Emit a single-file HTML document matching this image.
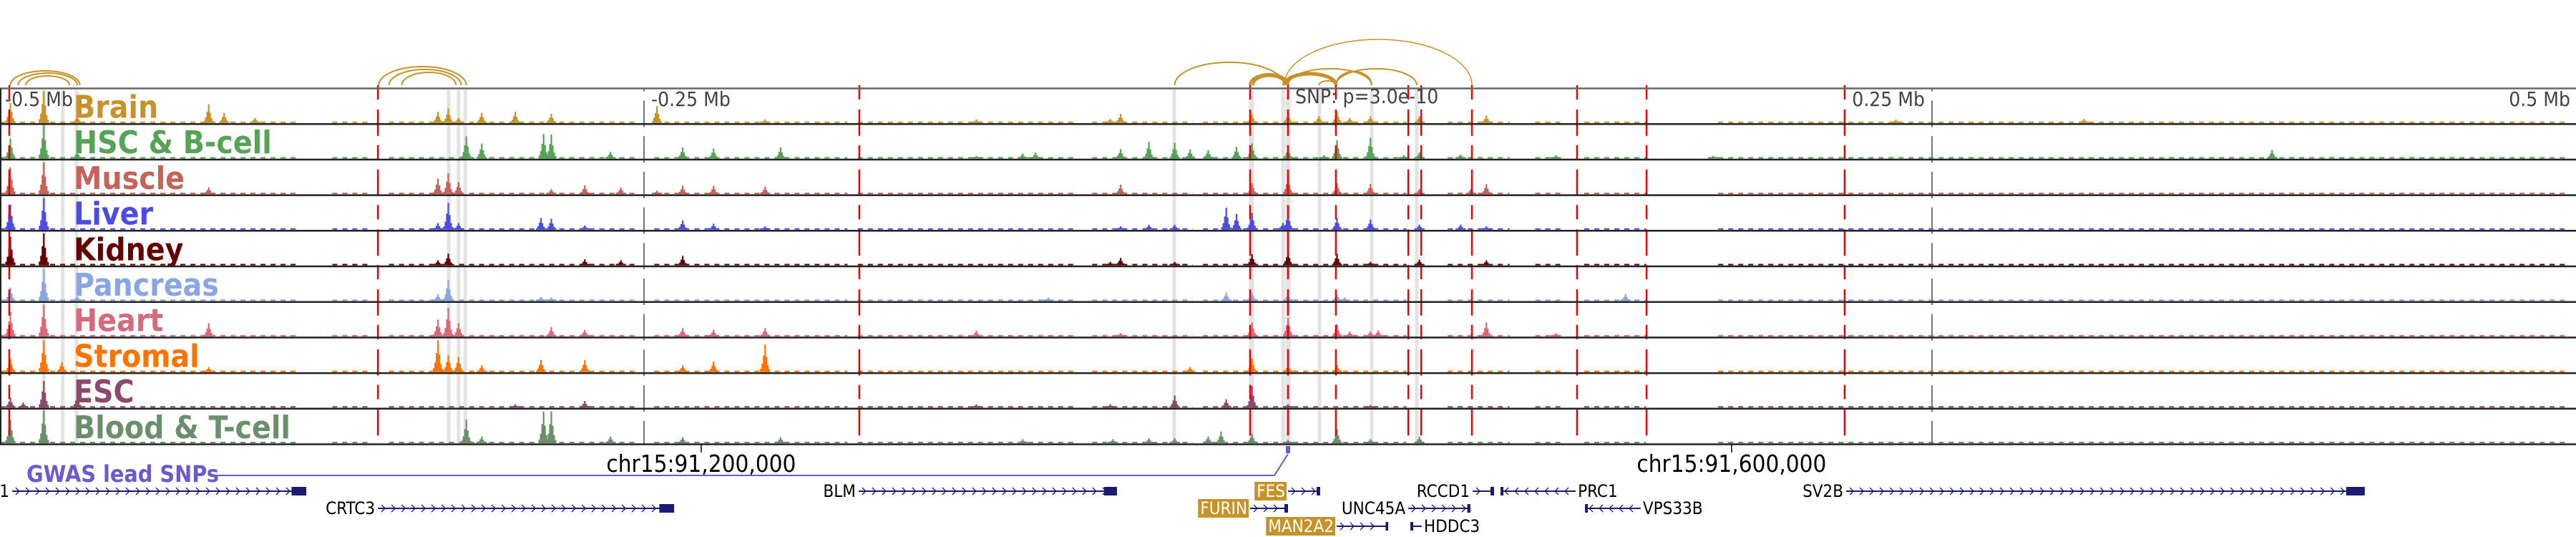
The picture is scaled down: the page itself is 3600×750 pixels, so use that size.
<!DOCTYPE html>
<html><head><meta charset="utf-8"><title>Genome browser chr15</title>
<style>
html,body{margin:0;padding:0;background:#fff;}
svg{display:block;}
text{font-family:"DejaVu Sans Condensed","DejaVu Sans","Liberation Sans",sans-serif;font-stretch:condensed;}
</style></head>
<body>
<svg id="chart" width="3600" height="750" viewBox="0 0 3600 750" xmlns="http://www.w3.org/2000/svg"></svg>
<script>
// ---------- data (positions in kb relative to lead SNP at chr15 center) ----------
const trackNames = ["Brain","HSC & B-cell","Muscle","Liver","Kidney","Pancreas","Heart","Stromal","ESC","Blood & T-cell"];
const trackColors = ["#c8922a","#55a355","#c5635a","#4b4be8","#650000","#8aa5e2","#d8697a","#ff7300","#8c4a6a","#6a8f6a"];
const brainPeaks = [[-496,0.6],[-483,0.95],[-470,0.2],[-419,0.56],[-413,0.3],[-401,0.15],[-330,0.33],[-326,0.43],[-322,0.15],[-313,0.3],[-300,0.33],[-286,0.27],[-245,0.5],[-203,0.1],[-121,0.1],[-69,0.12],[-65,0.27],[-14,0.25],[0,0.27],[12,0.2],[19,0.35],[24,0.15],[32,0.2],[51,0.2],[77,0.22],[236,0.1],[309,0.12]];
const hscPeaks = [[-496,0.6],[-483,1.0],[-470,0.2],[-319,0.66],[-313,0.45],[-289,0.73],[-286,0.72],[-263,0.2],[-235,0.33],[-223,0.3],[-197,0.33],[-121,0.08],[-103,0.15],[-98,0.18],[-65,0.28],[-54,0.5],[-44,0.47],[-38,0.27],[-31,0.25],[-20,0.35],[-14,0.45],[0,0.3],[14,0.1],[19,0.55],[32,0.62],[45,0.1],[51,0.18],[67,0.12],[104,0.1],[165,0.08],[382,0.26]];
const musclePeaks = [[-496,0.8],[-483,0.95],[-419,0.2],[-330,0.47],[-326,0.62],[-322,0.36],[-286,0.15],[-273,0.26],[-259,0.2],[-245,0.1],[-235,0.25],[-223,0.25],[-203,0.22],[-65,0.28],[-14,0.33],[0,0.5],[19,0.33],[32,0.3],[51,0.15],[71,0.15],[77,0.3]];
const liverPeaks = [[-496,0.75],[-483,0.95],[-330,0.2],[-326,0.8],[-322,0.2],[-290,0.35],[-286,0.33],[-273,0.13],[-235,0.28],[-223,0.18],[-203,0.1],[-65,0.1],[-54,0.15],[-44,0.15],[-24,0.66],[-20,0.47],[-14,0.5],[-2,0.2],[0,0.49],[19,0.35],[32,0.3],[51,0.15],[67,0.15],[77,0.1]];
const kidneyPeaks = [[-496,0.85],[-483,0.95],[-330,0.15],[-326,0.35],[-273,0.18],[-259,0.15],[-235,0.28],[-69,0.1],[-65,0.22],[-44,0.1],[-14,0.33],[0,0.4],[19,0.35],[32,0.1],[51,0.17],[77,0.15]];
const pancreasPeaks = [[-496,0.4],[-483,0.95],[-470,0.15],[-330,0.2],[-326,0.62],[-290,0.12],[-286,0.1],[-93,0.1],[-24,0.25],[-14,0.25],[0,0.2],[19,0.2],[22,0.1],[131,0.2]];
const heartPeaks = [[-496,0.75],[-483,0.95],[-419,0.4],[-330,0.5],[-326,0.85],[-322,0.4],[-286,0.28],[-273,0.2],[-235,0.25],[-223,0.2],[-203,0.25],[-121,0.17],[-65,0.1],[-14,0.42],[0,0.55],[19,0.36],[24,0.15],[32,0.15],[35,0.18],[77,0.42],[104,0.1]];
const stromalPeaks = [[-496,0.4],[-483,0.95],[-476,0.3],[-419,0.15],[-330,0.95],[-326,0.5],[-322,0.45],[-313,0.2],[-290,0.36],[-273,0.36],[-235,0.2],[-223,0.32],[-203,0.82],[-38,0.15],[-14,0.4],[0,0.2],[19,0.2]];
const escPeaks = [[-496,0.3],[-491,0.15],[-483,0.8],[-470,0.35],[-300,0.1],[-273,0.2],[-121,0.1],[-69,0.1],[-44,0.36],[-24,0.25],[-14,0.65],[0,0.1],[32,0.08]];
const bloodPeaks = [[-496,0.7],[-483,0.98],[-319,0.7],[-313,0.2],[-289,0.95],[-286,0.95],[-263,0.2],[-235,0.18],[-197,0.18],[-103,0.12],[-68,0.12],[-54,0.15],[-44,0.15],[-31,0.2],[-26,0.35],[-14,0.28],[0,0.1],[19,0.42],[32,0.12],[51,0.2]];
const trackPeaks = [brainPeaks,hscPeaks,musclePeaks,liverPeaks,kidneyPeaks,pancreasPeaks,heartPeaks,stromalPeaks,escPeaks,bloodPeaks];
const bgSegStart = [-500,-371,-349,-246,-167,-76,-33,62,96,115,167];
const bgSegEnd   = [-384,-357,-253,-171,-82,-37,46,86,106,139,497];
const redLines = [-496.4,-353.3,-166.4,-14.7,0,18.6,46.7,51.7,71.4,112.2,139.2,216.1];
const grayCols = [-483,-475.6,-470.3,-325.8,-322,-319.4,-44.2,-14.2,-1.9,0,12.2,32.5,50];
const rulerTicks = [-250,250];
const rulerLabels = ["-0.25 Mb","0.25 Mb"];
const arcStart = [-496,-493,-490,-353,-349,-344,-44,-14.7,-13.5,-1.5,-1.5,0,12,18.6,18.6];
const arcEnd   = [-469,-470,-473,-319,-321,-323,-1.5,0,-1,18.6,71.4,32.5,18.6,32.5,50];
const arcHeight= [20,17,13,26,22,18,32,15,13,16,64,23,6,19,23];
const arcWeight= [2,2,2,2,2,2,2,4,3,5,1.5,2,2,2,2];
const geneNames = ["1","CRTC3","BLM","FES","FURIN","MAN2A2","RCCD1","PRC1","UNC45A","HDDC3","VPS33B","SV2B"];
const geneStart = [-495.3,-353.3,-166.7,0,-14.7,18.9,71.7,82.5,46.7,47.5,115.3,216.7];
const geneEnd   = [-381.1,-238.3,-66.4,12.5,0,38.9,80,111.7,70.8,51.9,136.9,418];
const geneStrand= [1,1,1,1,1,1,1,-1,1,-1,-1,1];
const geneRow   = [0,1,0,0,1,2,0,0,1,2,1,0];
const geneHighlight=[0,0,0,1,1,1,0,0,0,0,0,0];
const geneLabelRight=[0,0,0,0,0,0,0,1,0,1,1,0];
const snpPositions = [0];
const chromTicks = [-227.8,172.2];
const chromTickLabels = ["chr15:91,200,000","chr15:91,600,000"];

// ---------- scales ----------
const X0=1800, PXKB=3.6;
const xOf = kb => X0 + kb*PXKB;
const T0=123.5, TH=49.7, NT=trackNames.length;
const trackTop = i => T0 + i*TH;
const svg=document.getElementById('chart');
const NS="http://www.w3.org/2000/svg";
function mk(tag, attrs, parent){const e=document.createElementNS(NS,tag);for(const k in attrs)e.setAttribute(k,attrs[k]);(parent||svg).appendChild(e);return e;}

// gray highlight columns
const gG=mk('g',{});


grayCols.forEach(kb=>{
  const w=(kb===0||Math.abs(kb+14.2)<0.1)?7:5;
  const r=mk('rect',{x:xOf(kb)-w/2,y:T0+2,width:w,height:TH*NT-3,fill:'#e3e3e3'},gG);
  
  
});

// signal tracks
for(let i=0;i<NT;i++){
  const g=mk('g',{});
  
  
  const base=trackTop(i)+TH-1.5, maxH=TH-3, col=trackColors[i];
  let d='';
  for(let s=0;s<bgSegStart.length;s++){
    const a=xOf(bgSegStart[s]), b=xOf(bgSegEnd[s]);
    for(let x=a;x<b;x+=14){const w=Math.min(7,b-x);d+=`M${x.toFixed(1)} ${base}h${w.toFixed(1)}v-2h-${w.toFixed(1)}z`;}
  }
  const bg=mk('path',{d:d,fill:col},g);
  
  
  trackPeaks[i].forEach(p=>{
    const cx=xOf(p[0]), h=p[1]*maxH;
    const parts=[[-6,0.12],[-4,0.3],[-2,0.6],[0,1],[2,0.55],[4,0.25],[6,0.1]];
    let pd='';
    parts.forEach(q=>{const hh=Math.max(2,h*q[1]);pd+=`M${(cx+q[0]-1).toFixed(1)} ${base}h2.2v-${hh.toFixed(1)}h-2.2z`;});
    const pk=mk('path',{d:pd,fill:col},g);
    
    
  });
  const lab=mk('text',{x:103,y:trackTop(i)+41,fill:col,'font-size':44,'font-weight':'bold'},g);
  lab.textContent=trackNames[i];
  
  
}

rulerTicks.forEach((kb,k)=>{
  const l=mk('line',{x1:xOf(kb),x2:xOf(kb),y1:T0,y2:T0+TH*NT,stroke:'#777','stroke-width':2,'stroke-dasharray':'37 12.7','stroke-dashoffset':'-17'});
  
  
});
redLines.forEach(kb=>{
  const l=mk('line',{x1:xOf(kb),x2:xOf(kb),y1:119,y2:T0+TH*NT,stroke:'#ee0000','stroke-width':2.5,'stroke-dasharray':'20 14 36.7 13.0','stroke-dashoffset':'0'});
  
  
});

for(let i=0;i<=NT;i++){
  const y=trackTop(i);
  const l=mk('line',{x1:0,x2:3600,y1:y,y2:y,stroke:i===0?'#666':'#222','stroke-width':2.5});
  
  
}
const lft=mk('line',{x1:1,x2:1,y1:T0,y2:T0+TH*NT,stroke:'#222','stroke-width':2});



const mb1=mk('text',{x:7,y:148,fill:'#444','font-size':28});
mb1.textContent='-0.5 Mb';


const mb2=mk('text',{x:3592,y:148,fill:'#444','font-size':28,'text-anchor':'end'});
mb2.textContent='0.5 Mb';


rulerTicks.forEach((kb,k)=>{
  const t=mk('text',{x:kb<0?xOf(kb)+10:xOf(kb)-10,y:148,fill:'#444','font-size':28,'text-anchor':kb<0?'start':'end'});
  t.textContent=rulerLabels[k];
  
  
});
const snpT=mk('text',{x:1810,y:144,fill:'#444','font-size':28});
snpT.textContent='SNP: p=3.0e-10';



const ga=mk('g',{fill:'none',stroke:'#c8922a'});


for(let k=0;k<arcStart.length;k++){
  const a=xOf(arcStart[k]), b=xOf(arcEnd[k]), y0=119;
  const rx=Math.abs(b-a)/2, ry=arcHeight[k];
  const p=mk('path',{d:`M${a} ${y0} A${rx} ${ry} 0 0 1 ${b} ${y0}`,'stroke-width':arcWeight[k]},ga);
  
  
}

chromTicks.forEach((kb,k)=>{
  const l=mk('line',{x1:xOf(kb),x2:xOf(kb),y1:620,y2:632,stroke:'#000','stroke-width':1.5});
  
  
  const t=mk('text',{x:xOf(kb),y:659,'font-size':33,'text-anchor':'middle',fill:'#000'});
  t.textContent=chromTickLabels[k];
  
  
});

const gw=mk('text',{x:37,y:673,'font-size':32,'font-weight':'bold',fill:'#6a5acd'});
gw.textContent='GWAS lead SNPs';


snpPositions.forEach(kb=>{
  const x=xOf(kb);
  const pl=mk('polyline',{points:`302,664 ${x-19},664 ${x},634`,fill:'none',stroke:'#6a5acd','stroke-width':2});
  
  
  const r=mk('rect',{x:x-3,y:623,width:6,height:10,fill:'#6a5acd'});
  
  
});

const rowY=[686,710,735];
for(let k=0;k<geneNames.length;k++){
  const g=mk('g',{});
  
  
  const a=xOf(geneStart[k]), b=xOf(geneEnd[k]), y=rowY[geneRow[k]], col='#1b1b72';
  mk('line',{x1:a,x2:b,y1:y,y2:y,stroke:col,'stroke-width':2},g);
  let d='';
  for(let x=a+8;x<b-8;x+=14){
    if(geneStrand[k]>0) d+=`M${x-3} ${y-5}L${x+2} ${y}L${x-3} ${y+5}`;
    else d+=`M${x+3} ${y-5}L${x-2} ${y}L${x+3} ${y+5}`;
  }
  mk('path',{d:d,fill:'none',stroke:col,'stroke-width':1.3},g);
  const ex=(b-a)>60?Math.min(26,(b-a)*0.05):5;
  if(geneStrand[k]>0) mk('rect',{x:b-ex,y:y-6,width:ex,height:12,fill:col},g);
  else mk('rect',{x:a,y:y-6,width:4,height:12,fill:col},g);
  const right=geneLabelRight[k];
  const t=mk('text',{x:right?b+3:a-4,y:y+8,'font-size':24,'text-anchor':right?'start':'end',fill:geneHighlight[k]?'#fff':'#000'},g);
  t.textContent=geneNames[k];
  if(geneHighlight[k]){
    const w=t.getComputedTextLength();
    const bx=mk('rect',{x:a-4-w-3,y:y-13,width:w+5,height:26,fill:'#c8922a'});
    g.insertBefore(bx,t);
  }
}
</script>
</body></html>
